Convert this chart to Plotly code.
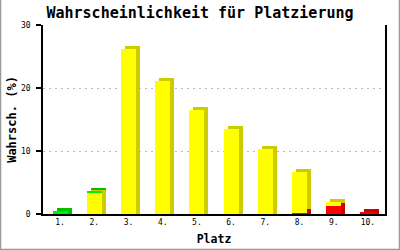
import plotly.graph_objects as go

categories = ["1.", "2.", "3.", "4.", "5.", "6.", "7.", "8.", "9.", "10."]
red_vals = [0, 0, 0, 0, 0, 0, 0, 0.2, 1.3, 0.25]
yellow_vals = [0, 3.35, 26.2, 21.1, 16.5, 13.5, 10.3, 6.47, 0.55, 0]
green_vals = [0.45, 0.3, 0, 0, 0, 0, 0, 0, 0, 0]
y_ticks = [0, 10, 20, 30]

FONT = "DejaVu Sans Mono"
BAR_W = 0.44
DX = 0.117   # depth shift in category units
DY = 0.52    # depth shift in value units

series = [
    (red_vals, "#ff0000", "#cc0000"),
    (yellow_vals, "#ffff00", "#cccc00"),
    (green_vals, "#00ee00", "#00c000"),
]

fig = go.Figure()
bases = [0.0] * len(categories)
seg = []
for vals, front, back in series:
    seg.append((list(bases), vals, front, back))
    bases = [b + v for b, v in zip(bases, vals)]

# back (depth) faces first
for base, vals, front, back in seg:
    bb = [0 if b == 0 else b + DY for b in base]
    tops = [(b + v + DY) if v > 0 else bbx for b, v, bbx in zip(base, vals, bb)]
    fig.add_trace(go.Bar(
        x=categories, y=[t - b for t, b in zip(tops, bb)], base=bb,
        width=BAR_W, offset=-BAR_W / 2 + DX,
        marker=dict(color=back, line=dict(width=0)),
        hoverinfo="skip", showlegend=False))
# front faces
for base, vals, front, back in seg:
    fig.add_trace(go.Bar(
        x=categories, y=vals, base=base,
        width=BAR_W, offset=-BAR_W / 2,
        marker=dict(color=front, line=dict(width=0)),
        hoverinfo="skip", showlegend=False))

fig.update_layout(
    width=400, height=250,
    margin=dict(l=43, r=15, t=25, b=36),
    paper_bgcolor="white", plot_bgcolor="white",
    barmode="overlay", bargap=0,
    font=dict(family=FONT, color="black", size=8),
    title=dict(text="Wahrscheinlichkeit für Platzierung",
               font=dict(family=FONT, size=15, weight="bold", color="black"),
               x=0.5, xanchor="center", xref="container",
               y=1 - 13 / 250, yanchor="middle", yref="container"),
    xaxis=dict(
        type="category", range=[-0.5, 9.5], automargin=False,
        showline=True, linecolor="black", linewidth=1.5,
        showgrid=False, ticks="", zeroline=False,
        tickfont=dict(family=FONT, size=8),
        title=dict(text="Platz", font=dict(family=FONT, size=11.5, weight="bold"),
                   standoff=9)),
    yaxis=dict(
        range=[0, 30], tickvals=y_ticks, automargin=False,
        showline=True, linecolor="black", linewidth=1.5, mirror=True,
        ticks="outside", ticklen=5, tickcolor="black", tickwidth=1.5,
        showgrid=True, gridcolor="#bbbbbb", gridwidth=1, griddash="2px,4px",
        zeroline=False, ticklabelstandoff=4,
        tickfont=dict(family=FONT, size=8),
        title=dict(text="Wahrsch. (%)", font=dict(family=FONT, size=12, weight="bold"),
                   standoff=2)),
)

# outer gray frame
fig.add_shape(type="rect", xref="paper", yref="paper",
              xsizemode="pixel", ysizemode="pixel", xanchor=0, yanchor=0,
              x0=-42.5, x1=356.5, y0=-35.5, y1=230,
              line=dict(color="#999999", width=1.5), fillcolor="rgba(0,0,0,0)",
              layer="above")

fig.write_html("out.html")
